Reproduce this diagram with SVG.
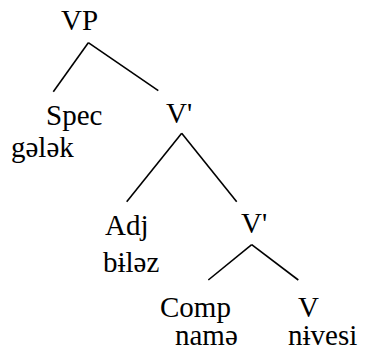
<svg xmlns="http://www.w3.org/2000/svg" width="369" height="352" viewBox="0 0 369 352">
<style>
.t{font-size:29px;fill:#000}
.e line{stroke:#000;stroke-width:1.6;stroke-linecap:butt}
</style>
<rect width="369" height="352" fill="#fff"/>
<g class="e" id="edges">
<line x1="88.3" y1="42.7" x2="53.3" y2="91.7"/>
<line x1="88.3" y1="42.7" x2="158.3" y2="90.7"/>
<line x1="181.7" y1="133.3" x2="126.7" y2="201.7"/>
<line x1="181.7" y1="133.3" x2="236.7" y2="201.7"/>
<line x1="251.7" y1="244.7" x2="208.3" y2="280"/>
<line x1="251.7" y1="244.7" x2="298.3" y2="280"/>
</g>
<g class="t" font-family="Liberation Serif, DejaVu Serif, serif">
<g id="VP"><text x="61" y="30">VP</text></g>
<g id="Spec"><text x="46" y="125">Spec</text><text x="11" y="157">gələk</text></g>
<g id="V1"><text x="166" y="123">V'</text></g>
<g id="Adj"><text x="105" y="235">Adj</text><text x="103" y="272">bɨləz</text></g>
<g id="V2"><text x="241" y="233">V'</text></g>
<g id="Comp"><text x="160" y="317">Comp</text><text x="175" y="345">namə</text></g>
<g id="V"><text x="298" y="317">V</text><text x="288" y="345">nɨvesi</text></g>
</g>
</svg>
